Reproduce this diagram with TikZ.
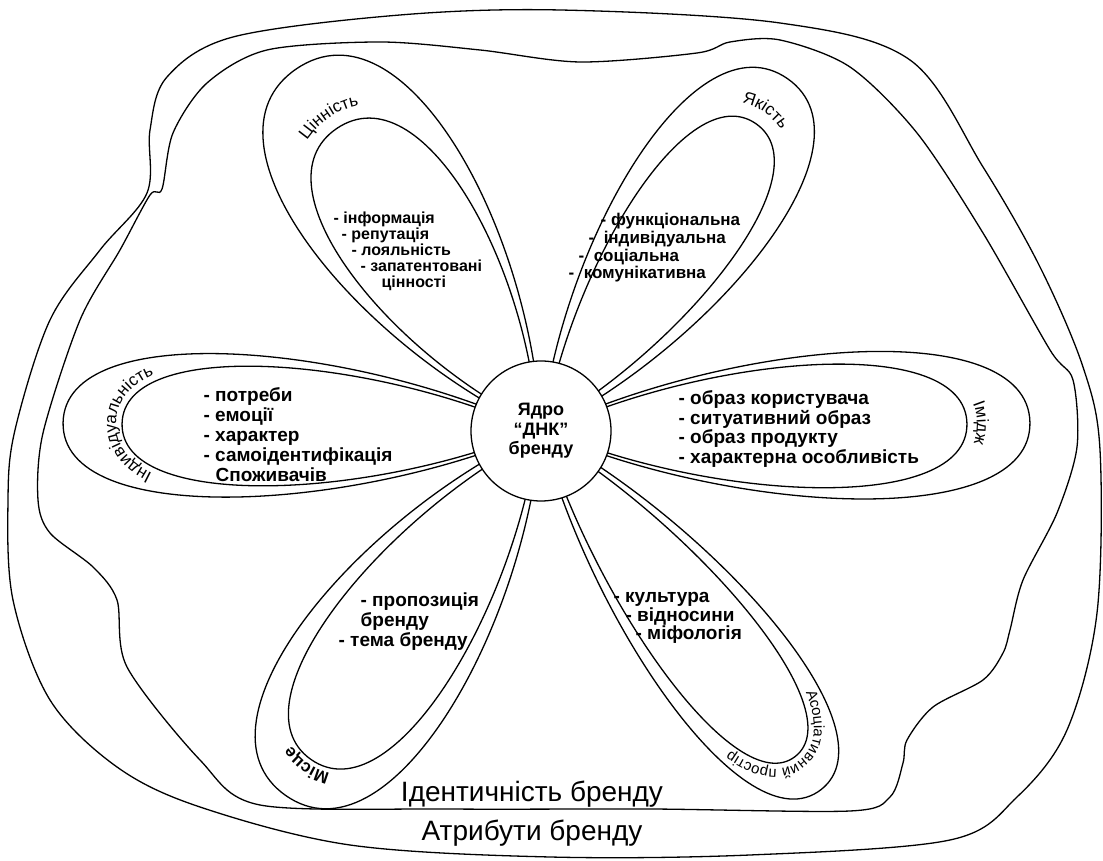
\documentclass[tikz,border=0pt]{standalone}
\usepackage{fontspec}
\setmainfont{Liberation Sans}
\usetikzlibrary{decorations.text}

% petal outline: base, length, half width
\newcommand{\petal}[3]{(#1,0) .. controls ({#1+0.4*(#2-#1)},{1.2*#3}) and (#2,{1.45*#3}) .. (#2,0) .. controls (#2,{-1.45*#3}) and ({#1+0.4*(#2-#1)},{-1.2*#3}) .. cycle}

\begin{document}
\begin{tikzpicture}[x=1pt, y=1pt, line width=1.3pt,
    core/.style={circle, draw, fill=white, minimum size=140pt, inner sep=0pt,
        align=center, font=\bfseries\fontsize{18}{19.5}\selectfont},
    items/.style={anchor=west, inner sep=0pt, align=left,
        font=\bfseries\fontsize{19}{20}\selectfont},
    petal label/.style 2 args={decorate, decoration={text along path,
        text align=center, text={|\fontsize{17}{17}\selectfont#1|#2}}},
    big label/.style={inner sep=0pt, font=\fontsize{28}{28}\selectfont}
    ]
    \useasboundingbox (0,0) rectangle (1103,861);

    % brand attributes
    \draw plot[smooth cycle, tension=0.55] coordinates {
        (400,846) (560,851) (780,838) (910,801) (983,694) (1040,594)
        (1083,494) (1100,411) (1097,248) (1067,131) (1017,64) (950,21)
        (750,6) (550,4) (350,16) (200,54) (117,94) (50,161) (13,261)
        (8,361) (15,431) (50,541) (100,611) (147,668) (150,731)
        (167,784) (233,824)};
    % brand identity
    \draw plot[smooth cycle, tension=0.5] coordinates {
        (780,821) (850,794) (917,728) (983,628) (1050,511) (1073,481)
        (1077,414) (1057,348) (1023,281) (1010,231) (1003,208) (983,181)
        (933,154) (907,121) (903,98) (890,64) (850,50) (650,52) (450,52)
        (260,56) (200,101) (127,194) (117,261) (93,294) (50,328) (38,361)
        (43,428) (80,541) (120,611) (150,666) (162,672) (173,728)
        (207,778) (267,811) (380,819) (480,811) (580,799) (697,808)
        (730,819)};

    \coordinate (c) at (541,430);

    % petals
    \begin{scope}[shift={(c)}, rotate=124]
        \draw \petal{0}{437}{89};
        \draw \petal{6}{365}{70};
        \path[petal label={}{Цінність}] \petal{0}{378}{83};
    \end{scope}
    \begin{scope}[shift={(c)}, rotate=55]
        \draw \petal{0}{430}{78};
        \draw \petal{6}{375}{58};
        \path[petal label={}{Якість}] \petal{0}{389}{72};
    \end{scope}
    \begin{scope}[shift={(c)}, rotate=1]
        \draw \petal{0}{489}{74};
        \draw \petal{6}{426}{62};
        \path[petal label={}{Імідж}] \petal{0}{436}{72};
    \end{scope}
    \begin{scope}[shift={(c)}, rotate=179]
        \draw \petal{0}{478}{72};
        \draw \petal{6}{419}{60};
        \path[petal label={}{Індивідуальність}] \petal{0}{425}{66};
    \end{scope}
    \begin{scope}[shift={(c)}, rotate=235]
        \draw \petal{0}{445}{86};
        \draw \petal{6}{401}{68};
        \path[petal label={\bfseries}{Місце}] \petal{0}{406}{73};
    \end{scope}
    \begin{scope}[shift={(c)}, rotate=308]
        \draw \petal{0}{455}{66};
        \draw \petal{6}{413}{52};
        \path[petal label={\fontsize{15}{15}\selectfont}{Асоціативний простір}] \petal{0}{419}{58};
    \end{scope}

    \node[core] (core) at (c) {Ядро\\“ДНК”\\бренду};

    % petal contents
    \node[items, font=\bfseries\fontsize{16}{16}\selectfont] (valuelist) at (333,610)
        {- інформація\\ \hspace*{8pt}- репутація\\ \hspace*{18pt}- лояльність\\
         \hspace*{27pt}- запатентовані\\ \hspace*{48pt}цінності};
    \node[items, font=\bfseries\fontsize{17}{17.6}\selectfont] (qualitylist) at (568,613)
        {\hspace*{32pt}- функціональна\\ \hspace*{20pt}-~~індивідуальна\\
         \hspace*{10pt}-~~соціальна\\ -~~комунікативна};
    \node[items] (personlist) at (203,426)
        {- потреби\\ - емоції\\ - характер\\ - самоідентифікація\\ \hspace*{12pt}Споживачів};
    \node[items, font=\bfseries\fontsize{19}{19.5}\selectfont] (imagelist) at (678,432)
        {- образ користувача\\ - ситуативний образ\\ - образ продукту\\ - характерна особливість};
    \node[items] (placelist) at (338,239)
        {\hspace*{22pt}- пропозиція\\ \hspace*{22pt}бренду\\ - тема бренду};
    \node[items, font=\bfseries\fontsize{19}{18.5}\selectfont] (assoclist) at (613,243)
        {- культура\\ \hspace*{12pt}- відносини\\ \hspace*{22pt}- міфологія};

    \node[big label] (identity) at (532,67) {Ідентичність бренду};
    \node[big label] (attributes) at (532,28) {Атрибути бренду};
\end{tikzpicture}
\end{document}
